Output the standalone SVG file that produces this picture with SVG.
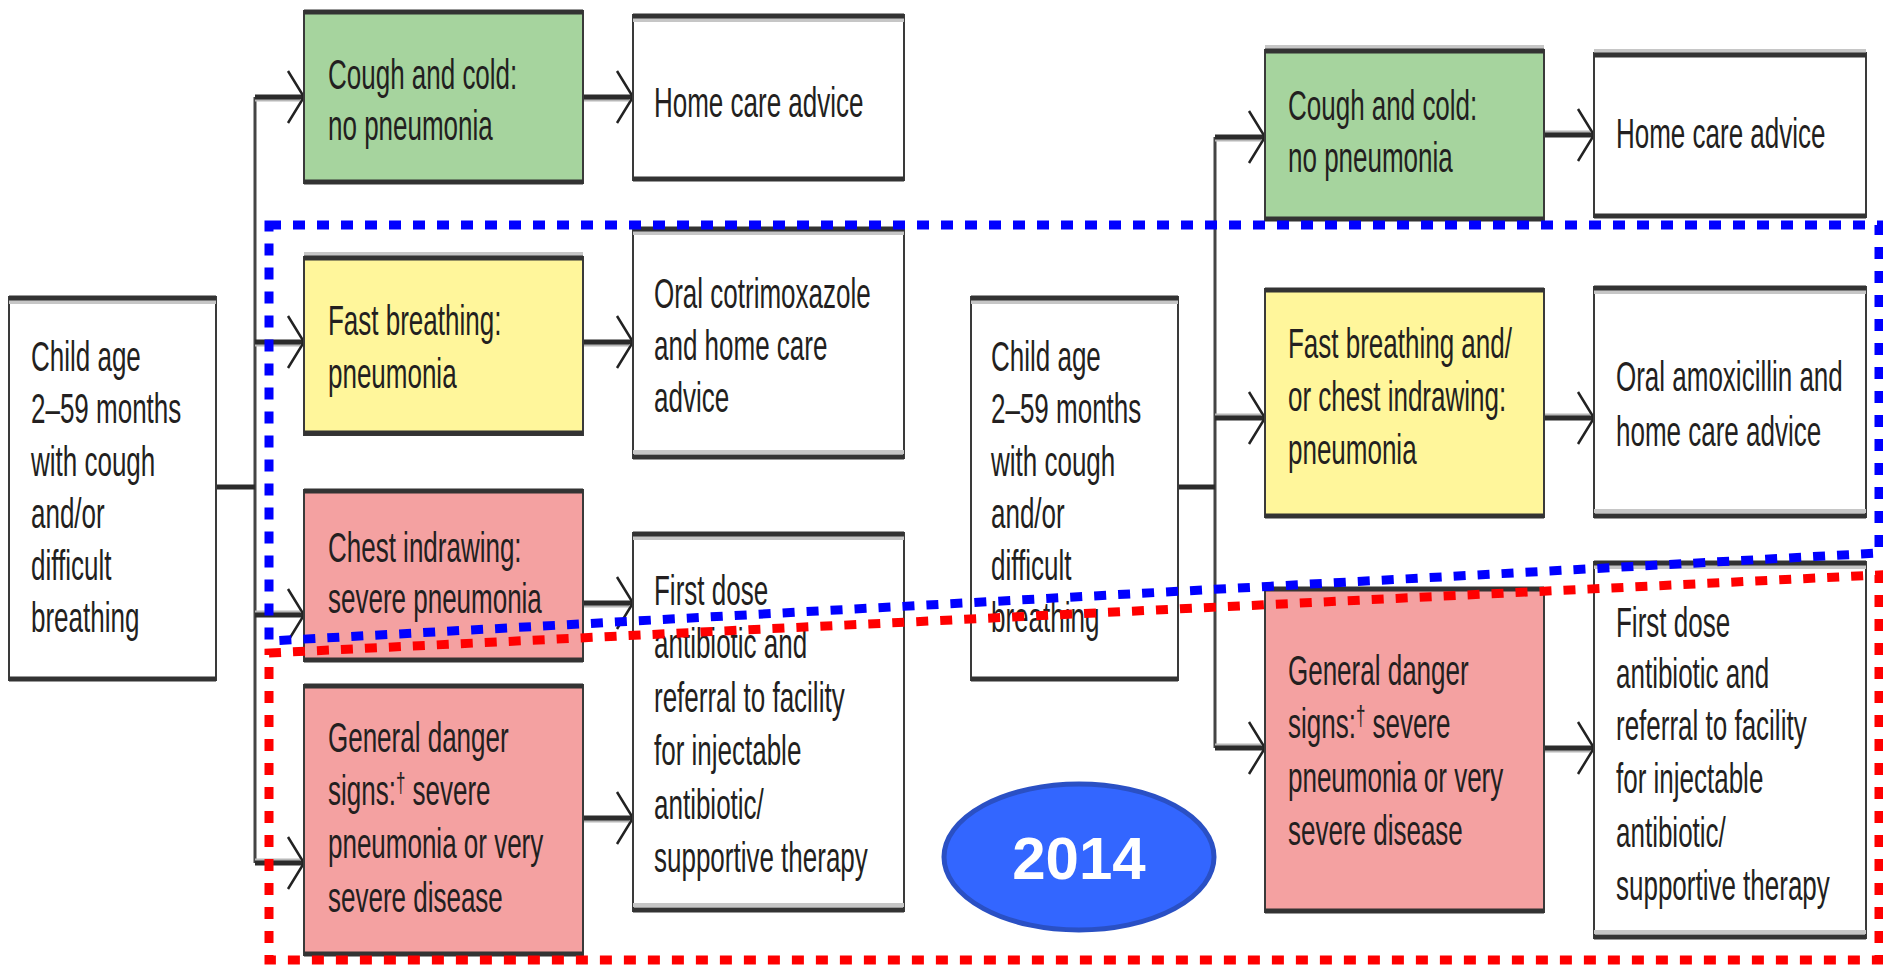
<svg xmlns="http://www.w3.org/2000/svg" width="1883" height="966" viewBox="0 0 1883 966">
<defs>
<style>
.box{stroke:#3a3a3a;stroke-width:2}
.w{fill:#ffffff}.g{fill:#a6d49e}.y{fill:#fff69b}.r{fill:#f4a1a1}
.edge{stroke:#333;stroke-width:5}
.sh{stroke:#c6c6c6;stroke-width:4}
.t{font-family:"Liberation Sans",Arial,sans-serif;font-size:26px;fill:#231f20}
.sup{font-size:17px}
.ln{stroke:#2b2b2b;stroke-width:5;fill:none}
.lnsh{stroke:#b8b8b8;stroke-width:3;fill:none}
.trunk{stroke:#444;stroke-width:3;fill:none}
.blue{fill:none;stroke:#0000ff;stroke-width:9;stroke-dasharray:12 12}
.red{fill:none;stroke:#ff0000;stroke-width:9;stroke-dasharray:12 12}
</style>
<marker id="chev" markerUnits="userSpaceOnUse" markerWidth="22" markerHeight="60" viewBox="0 0 22 60" refX="19" refY="30" orient="auto">
<path d="M3,4 L19,30 L3,56" fill="none" stroke="#222" stroke-width="2.5"/>
</marker>
</defs>
<rect width="1883" height="966" fill="#ffffff"/>

<g id="connectors">
<line class="trunk" x1="255" y1="97" x2="255" y2="863"/>
<line class="ln" x1="216" y1="487" x2="255" y2="487"/>
<line class="lnsh" x1="255" y1="100" x2="300" y2="100"/>
<line class="ln" x1="255" y1="97" x2="304" y2="97" marker-end="url(#chev)"/>
<line class="lnsh" x1="255" y1="345" x2="300" y2="345"/>
<line class="ln" x1="255" y1="342" x2="304" y2="342" marker-end="url(#chev)"/>
<line class="lnsh" x1="255" y1="612" x2="300" y2="612"/>
<line class="ln" x1="255" y1="615" x2="304" y2="615" marker-end="url(#chev)"/>
<line class="lnsh" x1="255" y1="860" x2="300" y2="860"/>
<line class="ln" x1="255" y1="863" x2="304" y2="863" marker-end="url(#chev)"/>
<line class="lnsh" x1="583" y1="100" x2="629" y2="100"/>
<line class="ln" x1="583" y1="97" x2="633" y2="97" marker-end="url(#chev)"/>
<line class="lnsh" x1="583" y1="345" x2="629" y2="345"/>
<line class="ln" x1="583" y1="342" x2="633" y2="342" marker-end="url(#chev)"/>
<line class="lnsh" x1="583" y1="606" x2="629" y2="606"/>
<line class="ln" x1="583" y1="603" x2="633" y2="603" marker-end="url(#chev)"/>
<line class="lnsh" x1="583" y1="821" x2="629" y2="821"/>
<line class="ln" x1="583" y1="818" x2="633" y2="818" marker-end="url(#chev)"/>

<line class="trunk" x1="1215" y1="137" x2="1215" y2="748"/>
<line class="ln" x1="1178" y1="487" x2="1215" y2="487"/>
<line class="lnsh" x1="1215" y1="140" x2="1261" y2="140"/>
<line class="ln" x1="1215" y1="137" x2="1265" y2="137" marker-end="url(#chev)"/>
<line class="lnsh" x1="1215" y1="415" x2="1261" y2="415"/>
<line class="ln" x1="1215" y1="418" x2="1265" y2="418" marker-end="url(#chev)"/>
<line class="lnsh" x1="1215" y1="745" x2="1261" y2="745"/>
<line class="ln" x1="1215" y1="748" x2="1265" y2="748" marker-end="url(#chev)"/>
<line class="lnsh" x1="1544" y1="132" x2="1590" y2="132"/>
<line class="ln" x1="1544" y1="135" x2="1594" y2="135" marker-end="url(#chev)"/>
<line class="lnsh" x1="1544" y1="415" x2="1590" y2="415"/>
<line class="ln" x1="1544" y1="418" x2="1594" y2="418" marker-end="url(#chev)"/>
<line class="lnsh" x1="1544" y1="751" x2="1590" y2="751"/>
<line class="ln" x1="1544" y1="748" x2="1594" y2="748" marker-end="url(#chev)"/>
</g>

<g id="child1">
<rect class="box w" x="9" y="297" width="207" height="383"/>
<line class="sh" x1="9" y1="302" x2="216" y2="302"/>
<line class="edge" x1="9" y1="298" x2="216" y2="298"/>
<line class="edge" x1="9" y1="679" x2="216" y2="679"/>
<text class="t" transform="translate(31,371) scale(1,1.6)"><tspan x="0" y="0">Child age</tspan><tspan x="0" y="32.5">2–59 months</tspan><tspan x="0" y="65.6">with cough</tspan><tspan x="0" y="98.1">and/or</tspan><tspan x="0" y="130.6">difficult</tspan><tspan x="0" y="163.1">breathing</tspan></text>
</g>

<g id="green1">
<rect class="box g" x="304" y="11" width="279" height="172"/>
<line class="edge" x1="304" y1="12" x2="583" y2="12"/>
<line class="edge" x1="304" y1="182" x2="583" y2="182"/>
<text class="t" transform="translate(328,89) scale(1,1.6)"><tspan x="0" y="0">Cough and cold:</tspan><tspan x="0" y="31.9">no pneumonia</tspan></text>
</g>

<g id="home1">
<rect class="box w" x="633" y="15" width="271" height="165"/>
<line class="sh" x1="633" y1="20" x2="904" y2="20"/>
<line class="edge" x1="633" y1="16" x2="904" y2="16"/>
<line class="edge" x1="633" y1="179" x2="904" y2="179"/>
<text class="t" transform="translate(654,117) scale(1,1.6)">Home care advice</text>
</g>

<g id="yellow1">
<rect class="box y" x="304" y="257" width="279" height="178"/>
<line class="sh" x1="304" y1="254" x2="583" y2="254"/>
<line class="edge" x1="304" y1="258" x2="583" y2="258"/>
<line class="edge" x1="304" y1="433" x2="583" y2="433"/>
<text class="t" transform="translate(328,335) scale(1,1.6)"><tspan x="0" y="0">Fast breathing:</tspan><tspan x="0" y="33.1">pneumonia</tspan></text>
</g>

<g id="oral1">
<rect class="box w" x="633" y="228" width="271" height="230"/>
<line class="sh" x1="633" y1="233" x2="904" y2="233"/>
<line class="edge" x1="633" y1="229" x2="904" y2="229"/>
<line class="sh" x1="633" y1="452" x2="904" y2="452"/>
<line class="edge" x1="633" y1="457" x2="904" y2="457"/>
<text class="t" transform="translate(654,308) scale(1,1.6)"><tspan x="0" y="0">Oral cotrimoxazole</tspan><tspan x="0" y="32.5">and home care</tspan><tspan x="0" y="65">advice</tspan></text>
</g>

<g id="chest1">
<rect class="box r" x="304" y="490" width="279" height="171"/>
<line class="edge" x1="304" y1="491" x2="583" y2="491"/>
<line class="edge" x1="304" y1="660" x2="583" y2="660"/>
<text class="t" transform="translate(328,562) scale(1,1.6)"><tspan x="0" y="0">Chest indrawing:</tspan><tspan x="0" y="31.9">severe pneumonia</tspan></text>
</g>

<g id="firstdose1">
<rect class="box w" x="633" y="533" width="271" height="378"/>
<line class="sh" x1="633" y1="538" x2="904" y2="538"/>
<line class="edge" x1="633" y1="534" x2="904" y2="534"/>
<line class="sh" x1="633" y1="905" x2="904" y2="905"/>
<line class="edge" x1="633" y1="910" x2="904" y2="910"/>
<text class="t" transform="translate(654,605) scale(1,1.6)"><tspan x="0" y="0">First dose</tspan><tspan x="0" y="33.1">antibiotic and</tspan><tspan x="0" y="66.9">referral to facility</tspan><tspan x="0" y="100">for injectable</tspan><tspan x="0" y="133.8">antibiotic/</tspan><tspan x="0" y="166.9">supportive therapy</tspan></text>
</g>

<g id="danger1">
<rect class="box r" x="304" y="685" width="279" height="270"/>
<line class="edge" x1="304" y1="686" x2="583" y2="686"/>
<line class="edge" x1="304" y1="954" x2="583" y2="954"/>
<text class="t" transform="translate(328,752) scale(1,1.6)"><tspan x="0" y="0">General danger</tspan><tspan x="0" y="33.1">signs:<tspan class="sup" dy="-8">†</tspan><tspan dy="8"> severe</tspan></tspan><tspan x="0" y="66.3">pneumonia or very</tspan><tspan x="0" y="100">severe disease</tspan></text>
</g>

<g id="child2">
<rect class="box w" x="971" y="297" width="207" height="383"/>
<line class="sh" x1="971" y1="302" x2="1178" y2="302"/>
<line class="edge" x1="971" y1="298" x2="1178" y2="298"/>
<line class="edge" x1="971" y1="679" x2="1178" y2="679"/>
<text class="t" transform="translate(991,371) scale(1,1.6)"><tspan x="0" y="0">Child age</tspan><tspan x="0" y="32.5">2–59 months</tspan><tspan x="0" y="65.6">with cough</tspan><tspan x="0" y="98.1">and/or</tspan><tspan x="0" y="130.6">difficult</tspan><tspan x="0" y="163.1">breathing</tspan></text>
</g>

<g id="green2">
<rect class="box g" x="1265" y="50" width="279" height="170"/>
<line class="sh" x1="1265" y1="47" x2="1544" y2="47"/>
<line class="edge" x1="1265" y1="51" x2="1544" y2="51"/>
<line class="edge" x1="1265" y1="219" x2="1544" y2="219"/>
<text class="t" transform="translate(1288,120) scale(1,1.6)"><tspan x="0" y="0">Cough and cold:</tspan><tspan x="0" y="32.5">no pneumonia</tspan></text>
</g>

<g id="home2">
<rect class="box w" x="1594" y="53" width="272" height="164"/>
<line class="sh" x1="1594" y1="51" x2="1866" y2="51"/>
<line class="edge" x1="1594" y1="55" x2="1866" y2="55"/>
<line class="edge" x1="1594" y1="216" x2="1866" y2="216"/>
<text class="t" transform="translate(1616,148) scale(1,1.6)">Home care advice</text>
</g>

<g id="yellow2">
<rect class="box y" x="1265" y="289" width="279" height="228"/>
<line class="edge" x1="1265" y1="290" x2="1544" y2="290"/>
<line class="edge" x1="1265" y1="516" x2="1544" y2="516"/>
<text class="t" transform="translate(1288,358) scale(1,1.6)"><tspan x="0" y="0">Fast breathing and/</tspan><tspan x="0" y="33.1">or chest indrawing:</tspan><tspan x="0" y="66.3">pneumonia</tspan></text>
</g>

<g id="amox">
<rect class="box w" x="1594" y="287" width="272" height="230"/>
<line class="sh" x1="1594" y1="292" x2="1866" y2="292"/>
<line class="edge" x1="1594" y1="288" x2="1866" y2="288"/>
<line class="sh" x1="1594" y1="511" x2="1866" y2="511"/>
<line class="edge" x1="1594" y1="516" x2="1866" y2="516"/>
<text class="t" transform="translate(1616,391) scale(1,1.6)"><tspan x="0" y="0">Oral amoxicillin and</tspan><tspan x="0" y="34.4">home care advice</tspan></text>
</g>

<g id="danger2">
<rect class="box r" x="1265" y="588" width="279" height="324"/>
<line class="edge" x1="1265" y1="589" x2="1544" y2="589"/>
<line class="edge" x1="1265" y1="911" x2="1544" y2="911"/>
<text class="t" transform="translate(1288,685) scale(1,1.6)"><tspan x="0" y="0">General danger</tspan><tspan x="0" y="33.1">signs:<tspan class="sup" dy="-8">†</tspan><tspan dy="8"> severe</tspan></tspan><tspan x="0" y="66.9">pneumonia or very</tspan><tspan x="0" y="100">severe disease</tspan></text>
</g>

<g id="firstdose2">
<rect class="box w" x="1594" y="562" width="272" height="376"/>
<line class="sh" x1="1594" y1="567" x2="1866" y2="567"/>
<line class="edge" x1="1594" y1="563" x2="1866" y2="563"/>
<line class="sh" x1="1594" y1="932" x2="1866" y2="932"/>
<line class="edge" x1="1594" y1="937" x2="1866" y2="937"/>
<text class="t" transform="translate(1616,637) scale(1,1.6)"><tspan x="0" y="0">First dose</tspan><tspan x="0" y="31.9">antibiotic and</tspan><tspan x="0" y="64.4">referral to facility</tspan><tspan x="0" y="97.5">for injectable</tspan><tspan x="0" y="131.3">antibiotic/</tspan><tspan x="0" y="164.4">supportive therapy</tspan></text>
</g>

<g id="highlights">
<polygon class="blue" points="269,225 1879,225 1879,553 269,641"/>
<polygon class="red" points="269,653 1879,575 1879,960 269,960"/>
</g>

<g id="badge2014">
<ellipse cx="1079" cy="857" rx="135" ry="73" fill="#3366ff" stroke="#2a50c4" stroke-width="5"/>
<text x="1079" y="879" text-anchor="middle" font-family="Liberation Sans, Arial, sans-serif" font-weight="bold" font-size="60" fill="#ffffff">2014</text>
</g>
</svg>
